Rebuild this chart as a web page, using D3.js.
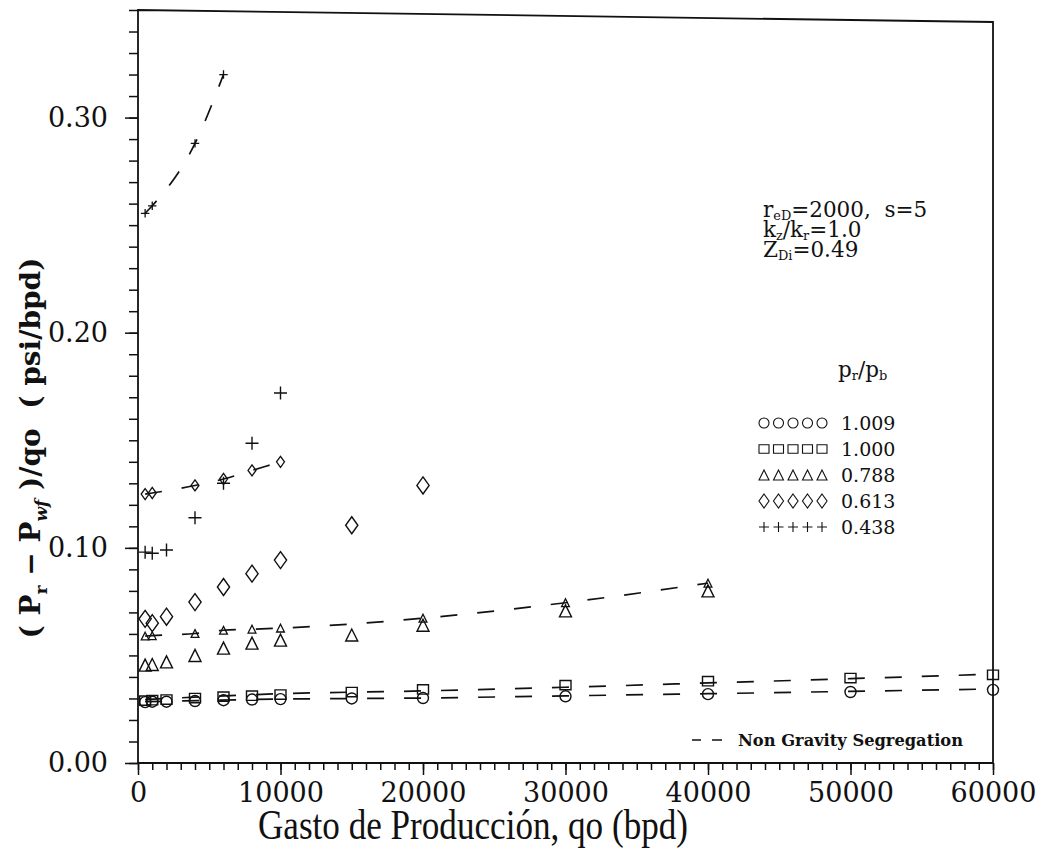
<!DOCTYPE html>
<html>
<head>
<meta charset="utf-8">
<script src="https://cdn.jsdelivr.net/npm/d3@7"></script>
<style>
body { margin: 0; background: #fff; }
svg { display: block; }
text { fill: #111; }
</style>
</head>
<body>
<div id="chart"></div>
<script>
// (Pr - Pwf)/qo vs. production rate, one run per pr/pb value

var prpb = ["1.009", "1.000", "0.788", "0.613", "0.438"];
var shapes = ["circle", "square", "triangle", "diamond", "plus"];

// gravity segregation runs (symbols only)
var circQo  = [500, 1000, 2000, 4000, 6000, 8000, 10000, 15000, 20000, 30000, 40000, 50000, 60000];
var circVal = [0.0283, 0.0285, 0.0285, 0.0288, 0.0292, 0.0295, 0.0297, 0.0300, 0.0302, 0.0310, 0.0320, 0.0330, 0.0340];
var sqQo    = [500, 1000, 2000, 4000, 6000, 8000, 10000, 15000, 20000, 30000, 40000, 50000, 60000];
var sqVal   = [0.0290, 0.0292, 0.0295, 0.0302, 0.0308, 0.0313, 0.0318, 0.0330, 0.0342, 0.0362, 0.0380, 0.0395, 0.0410];
var triQo   = [500, 1000, 2000, 4000, 6000, 8000, 10000, 15000, 20000, 30000, 40000];
var triVal  = [0.0455, 0.0458, 0.0470, 0.0500, 0.0534, 0.0557, 0.0571, 0.0595, 0.0640, 0.0707, 0.0800];
var diaQo   = [500, 1000, 2000, 4000, 6000, 8000, 10000, 15000, 20000];
var diaVal  = [0.0670, 0.0650, 0.0680, 0.0748, 0.0818, 0.0880, 0.0943, 0.1105, 0.1290];
var plusQo  = [500, 1000, 2000, 4000, 6000, 8000, 10000];
var plusVal = [0.0980, 0.0975, 0.0990, 0.1140, 0.1300, 0.1486, 0.1720];

// non gravity segregation runs (dashed)
var ngCircQo  = [500, 10000, 20000, 30000, 40000, 50000, 60000];
var ngCircVal = [0.0285, 0.0297, 0.0302, 0.0312, 0.0322, 0.0333, 0.0344];
var ngSqQo    = [500, 10000, 20000, 30000, 40000, 50000, 60000];
var ngSqVal   = [0.0295, 0.0322, 0.0335, 0.0352, 0.0372, 0.0392, 0.0413];
var ngTriQo   = [500, 1000, 4000, 6000, 8000, 10000, 20000, 30000, 40000];
var ngTriVal  = [0.0590, 0.0592, 0.0602, 0.0617, 0.0622, 0.0627, 0.0673, 0.0745, 0.0836];
var ngDiaQo   = [500, 1000, 4000, 6000, 8000, 10000];
var ngDiaVal  = [0.1250, 0.1255, 0.1290, 0.1320, 0.1360, 0.1400];
var ngPlusQo  = [500, 1000, 4000, 6000];
var ngPlusVal = [0.2555, 0.2590, 0.2880, 0.3200];

var xMajor = [0, 10000, 20000, 30000, 40000, 50000, 60000];
var yMajor = [0, 0.10, 0.20, 0.30];

(function() {
	var W = 1037, H = 850;
	var mLeft = 138, mRight = 993, mTop = 10, mBottom = 763;
	var scanTilt = 12;   // the scanned frame's top edge runs slightly downhill

	var series = [
		{ shape: shapes[0], label: prpb[0], qo: circQo, val: circVal, ngQo: ngCircQo, ngVal: ngCircVal, ngMarks: false },
		{ shape: shapes[1], label: prpb[1], qo: sqQo,   val: sqVal,   ngQo: ngSqQo,   ngVal: ngSqVal,   ngMarks: false },
		{ shape: shapes[2], label: prpb[2], qo: triQo,  val: triVal,  ngQo: ngTriQo,  ngVal: ngTriVal,  ngMarks: true },
		{ shape: shapes[3], label: prpb[3], qo: diaQo,  val: diaVal,  ngQo: ngDiaQo,  ngVal: ngDiaVal,  ngMarks: true },
		{ shape: shapes[4], label: prpb[4], qo: plusQo, val: plusVal, ngQo: ngPlusQo, ngVal: ngPlusVal, ngMarks: true }
	];

	var markSize = { circle: 11, square: 11, triangle: 12, diamond: 17, plus: 13 };

	var symbolPath = {
		circle: function(s) { var r = s / 2; return "M" + (-r) + ",0A" + r + "," + r + " 0 1,0 " + r + ",0A" + r + "," + r + " 0 1,0 " + (-r) + ",0Z"; },
		square: function(s) { var h = s / 2; return "M" + (-h) + "," + (-h * 0.85) + "H" + h + "V" + (h * 0.85) + "H" + (-h) + "Z"; },
		triangle: function(s) { var h = s / 2; return "M0," + (-h) + "L" + h + "," + h + "L" + (-h) + "," + h + "Z"; },
		diamond: function(s) { var w = s * 0.36, h = s * 0.5; return "M0," + (-h) + "L" + w + ",0L0," + h + "L" + (-w) + ",0Z"; },
		plus: function(s) { var h = s / 2; return "M" + (-h) + ",0H" + h + "M0," + (-h) + "V" + h; }
	};

	var x = d3.scaleLinear().domain([0, 60000]).range([mLeft, mRight]);
	var y = d3.scaleLinear().domain([0, 0.35]).range([mBottom, mTop]);

	var svg = d3.select("#chart").append("svg")
		.attr("width", W)
		.attr("height", H)
		.style("background", "#fff");

	// frame
	var x0 = x.range()[0], x1 = x.range()[1], y0 = y.range()[0], y1 = y.range()[1];
	svg.append("path")
		.attr("d", "M" + x0 + "," + y1 + "L" + x1 + "," + (y1 + scanTilt) + "L" + x1 + "," + y0 + "L" + x0 + "," + y0 + "Z")
		.attr("fill", "none")
		.attr("stroke", "#111")
		.attr("stroke-width", 1.8);

	// axes: minor and major ticks drawn separately
	function styleAxis(g) {
		g.select(".domain").remove();
		g.selectAll("line").attr("stroke", "#111").attr("stroke-width", 1.5);
		g.selectAll("text")
			.style("font-family", "'DejaVu Serif', serif")
			.style("font-size", "27px")
			.attr("fill", "#111");
	}

	svg.append("g")
		.attr("transform", "translate(" + mLeft + ",0)")
		.call(d3.axisLeft(y).tickValues(d3.range(0, 35.5, 1).map(function(d) { return d / 100; })).tickSize(9).tickFormat(""))
		.call(styleAxis);
	svg.append("g")
		.attr("transform", "translate(" + mLeft + ",0)")
		.call(d3.axisLeft(y).tickValues(yMajor).tickSize(13).tickPadding(17).tickFormat(d3.format(".2f")))
		.call(styleAxis);

	svg.append("g")
		.attr("transform", "translate(0," + mBottom + ")")
		.call(d3.axisBottom(x).tickValues(d3.range(0, 60001, 1000)).tickSize(7).tickFormat(""))
		.call(styleAxis);
	svg.append("g")
		.attr("transform", "translate(0," + mBottom + ")")
		.call(d3.axisBottom(x).tickValues(xMajor).tickSize(12).tickPadding(8).tickFormat(d3.format("d")))
		.call(styleAxis);

	// non gravity segregation curves
	var line = d3.line()
		.x(function(d) { return x(d[0]); })
		.y(function(d) { return y(d[1]); })
		.curve(d3.curveMonotoneX);

	series.forEach(function(s) {
		var pts = s.ngQo.map(function(q, i) { return [q, s.ngVal[i]]; });
		svg.append("path")
			.datum(pts)
			.attr("d", line)
			.attr("fill", "none")
			.attr("stroke", "#111")
			.attr("stroke-width", 1.7)
			.attr("stroke-dasharray", "17,20");
		if (s.ngMarks) {
			svg.append("g").selectAll("path")
				.data(pts)
				.enter().append("path")
				.attr("transform", function(d) { return "translate(" + x(d[0]) + "," + y(d[1]) + ")"; })
				.attr("d", symbolPath[s.shape](markSize[s.shape] * 0.65))
				.attr("fill", "none")
				.attr("stroke", "#111")
				.attr("stroke-width", 1.3);
		}
	});

	// gravity segregation symbols
	series.forEach(function(s) {
		svg.append("g").selectAll("path")
			.data(s.qo.map(function(q, i) { return [q, s.val[i]]; }))
			.enter().append("path")
			.attr("transform", function(d) { return "translate(" + x(d[0]) + "," + y(d[1]) + ")"; })
			.attr("d", symbolPath[s.shape](markSize[s.shape]))
			.attr("fill", "none")
			.attr("stroke", "#111")
			.attr("stroke-width", 1.4);
	});

	// text with subscript parts: parts = [[text, "sub"?, italic?], ...]
	function richText(g, parts, size, drop) {
		var t = g.append("text").style("font-size", size + "px").style("white-space", "pre");
		var shift = 0;
		parts.forEach(function(p) {
			var want = p[1] === "sub" ? (drop || 0.25) * size : 0;
			var span = t.append("tspan")
				.attr("dy", want - shift)
				.style("font-size", p[1] === "sub" ? (size * 0.6) + "px" : size + "px")
				.text(p[0]);
			if (p[2]) span.style("font-style", "italic");
			shift = want;
		});
		return t;
	}

	// case parameters
	var note = svg.append("g")
		.attr("transform", "translate(763,0)")
		.style("font-family", "'DejaVu Serif', serif");
	richText(note, [["r"], ["eD", "sub"], ["=2000,  s=5"]], 21.5, 0.12).attr("y", 217);
	richText(note, [["k"], ["z", "sub"], ["/k"], ["r", "sub"], ["=1.0"]], 21.5, 0.12).attr("y", 237);
	richText(note, [["Z"], ["Di", "sub"], ["=0.49"]], 21.5, 0.12).attr("y", 257);

	// legend
	var legend = svg.append("g").style("font-family", "'DejaVu Serif', serif");
	richText(legend, [["p"], ["r", "sub"], ["/p"], ["b", "sub"]], 21.5, 0.12).attr("x", 838).attr("y", 377);

	series.forEach(function(s, i) {
		var row = legend.append("g").attr("transform", "translate(0," + (423 + i * 26) + ")");
		row.selectAll("path")
			.data(d3.range(5))
			.enter().append("path")
			.attr("transform", function(k) { return "translate(" + (764 + k * 14.5) + ",0)"; })
			.attr("d", symbolPath[s.shape](s.shape === "diamond" ? 14 : 10))
			.attr("fill", "none")
			.attr("stroke", "#111")
			.attr("stroke-width", 1.1);
		row.append("text")
			.attr("x", 841)
			.attr("y", 7)
			.style("font-size", "19px")
			.text(s.label);
	});

	var ng = svg.append("g").attr("transform", "translate(0,740)");
	ng.append("path")
		.attr("d", "M692,0H701M712,0H722")
		.attr("stroke", "#111")
		.attr("stroke-width", 1.7);
	ng.append("text")
		.attr("x", 738)
		.attr("y", 6)
		.attr("textLength", 225)
		.attr("lengthAdjust", "spacingAndGlyphs")
		.style("font-family", "'DejaVu Serif', serif")
		.style("font-size", "16px")
		.style("font-weight", "bold")
		.text("Non Gravity Segregation");

	// axis titles
	svg.append("text")
		.attr("x", 473)
		.attr("y", 839)
		.attr("text-anchor", "middle")
		.attr("textLength", 430)
		.attr("lengthAdjust", "spacingAndGlyphs")
		.style("font-family", "'Liberation Serif', serif")
		.style("font-size", "43px")
		.text("Gasto de Producción, qo (bpd)");

	var yt = svg.append("g")
		.attr("transform", "translate(40,448) rotate(-90)")
		.style("font-family", "'DejaVu Serif', serif")
		.style("font-weight", "bold");
	richText(yt, [["( P"], ["r", "sub"], [" − P"], ["wf", "sub", true], [" )/qo  ( psi/bpd)"]], 28)
		.attr("text-anchor", "middle");
})();
</script>
</body>
</html>
